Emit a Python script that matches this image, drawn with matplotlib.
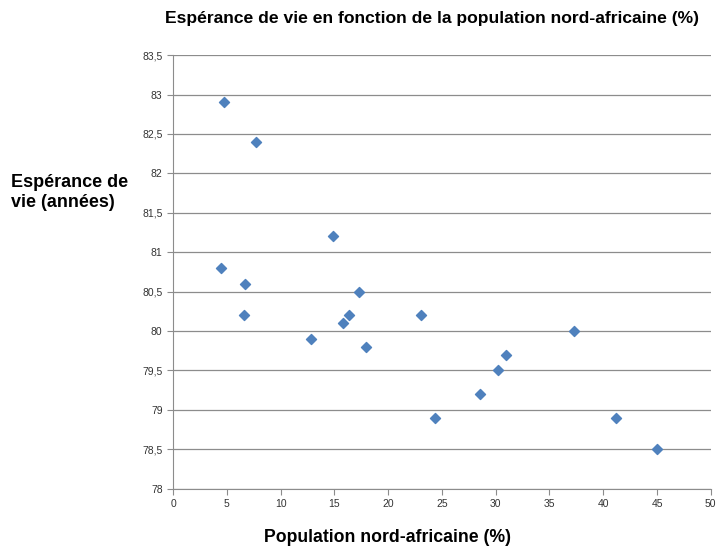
import matplotlib.pyplot as plt
from matplotlib.ticker import FuncFormatter

plt.rcParams['font.family'] = ['Liberation Sans', 'DejaVu Sans']

pop_na = [4.7, 7.7, 4.5, 6.7, 6.6, 14.9, 12.8, 17.3, 16.4, 15.8, 17.9,
          23.1, 24.4, 28.5, 30.2, 31.0, 37.3, 41.2, 45.0]
esperance = [82.9, 82.4, 80.8, 80.6, 80.2, 81.2, 79.9, 80.5, 80.2, 80.1, 79.8,
             80.2, 78.9, 79.2, 79.5, 79.7, 80.0, 78.9, 78.5]

fig = plt.figure(figsize=(7.18, 5.46), dpi=100)
ax = fig.add_axes([0.241, 0.105, 0.749, 0.794])

ax.scatter(pop_na, esperance, marker='D', s=26, color='#4F81BD',
           edgecolors='#4F81BD', zorder=3)

ax.set_xlim(0, 50)
ax.set_ylim(78, 83.5)
ax.set_xticks(range(0, 51, 5))
ax.set_yticks([78 + 0.5 * i for i in range(12)])
ax.yaxis.set_major_formatter(FuncFormatter(lambda v, p: ('%g' % v).replace('.', ',')))

ax.grid(axis='y', color='#8c8c8c', linewidth=0.9)
ax.set_axisbelow(True)
for s in ['top', 'right']:
    ax.spines[s].set_visible(False)
for s in ['left', 'bottom']:
    ax.spines[s].set_color('#8c8c8c')
ax.tick_params(axis='both', colors='#8c8c8c', labelcolor='#333333',
               labelsize=7.5, length=4)

fig.text(0.601, 0.967, 'Espérance de vie en fonction de la population nord-africaine (%)',
         ha='center', va='center', fontsize=12.6, fontweight='bold')
fig.text(0.016, 0.647, 'Espérance de\nvie (années)', ha='left', va='center',
         fontsize=13, fontweight='bold', linespacing=1.2)
fig.text(0.539, 0.016, 'Population nord-africaine (%)', ha='center', va='center',
         fontsize=12.7, fontweight='bold')

fig.savefig('out.png', dpi=100)
